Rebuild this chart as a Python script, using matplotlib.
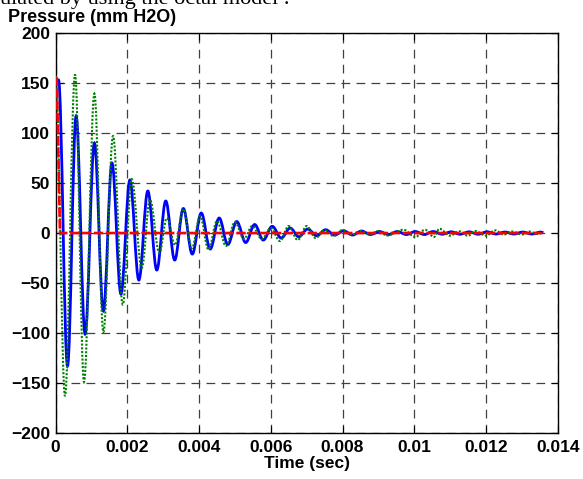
import matplotlib
matplotlib.use("Agg")
import matplotlib.pyplot as plt
from matplotlib.path import Path
from matplotlib.patches import PathPatch

# extremes of the waveforms (time in s, pressure in mm H2O)
blue_t = [0, 0.00008, 0.00033, 0.00057, 0.00082, 0.00108, 0.00133, 0.00157,
          0.00182, 0.00207, 0.00232, 0.00257, 0.00282, 0.00307, 0.00332,
          0.00356, 0.00381, 0.00406, 0.00431, 0.00456, 0.00480, 0.00505,
          0.00530, 0.00555, 0.00579, 0.00604, 0.00629, 0.00654, 0.00678,
          0.00703, 0.00728, 0.00753, 0.00778, 0.00803, 0.00828, 0.00853,
          0.00878, 0.00903, 0.00928, 0.00953, 0.00978, 0.01003, 0.01028,
          0.01053, 0.01078, 0.01103, 0.01128, 0.01153, 0.01178, 0.01203,
          0.01228, 0.01253, 0.01278, 0.01303, 0.01328, 0.01353, 0.0136]
blue_v = [150, 153, -133, 117, -101, 90, -78, 70,
          -61, 53, -47, 42, -37, 32, -27,
          24.5, -21, 20, -16, 15, -11.5, 11.5,
          -9.5, 8.5, -7, 6.7, -5, 5, -3.7,
          4, -2.7, 3.3, -2, 2.3, -2, 2,
          -1.5, 1.5, -1.5, 1.5, -1.5, 1.5, -1.5,
          1.5, -1.2, 1.2, -1.2, 1.2, -1.2, 1.2,
          -1, 1, -1, 1, -1, 1, 0.5]

green_t = [0, 0.00026, 0.00054, 0.00079, 0.00108, 0.00133, 0.00160, 0.00187,
           0.00212, 0.00240, 0.00263, 0.00289, 0.00310, 0.00333, 0.00356,
           0.00380, 0.00403, 0.00426, 0.00450, 0.00475, 0.00500, 0.00525,
           0.00548, 0.00575, 0.00600, 0.00625, 0.00650, 0.00675, 0.00700,
           0.00725, 0.00750, 0.00775, 0.00800, 0.00826, 0.00850, 0.00876,
           0.00900, 0.00924, 0.00970, 0.01003, 0.01030, 0.01055, 0.01070,
           0.01100, 0.01125, 0.01150, 0.01170, 0.01200, 0.01225, 0.01250,
           0.01275, 0.01300, 0.01320, 0.01345, 0.0136]
green_v = [157, -163, 158.5, -149, 139.5, -99, 97, -71.5,
           54, -35, 33.5, -20, 15, -12, 24,
           -15, 17, -16.5, 12, -13, 11, -6,
           7, -6, 5, -8, 7, -7, 7,
           -5, 3, -3, 3, -2, 2, -1.5,
           2, -2.5, 3.3, -4, 3.3, -4, 4.3,
           -2.7, 1.7, -2.7, 2, -2.7, 2.7, -1.5,
           1.5, -1.5, 1.5, -1, 0.5]

red_t = [0, 0.00003, 0.00012, 0.0136]
red_v = [155, 155, 0, 0]

xticks = [0, 0.002, 0.004, 0.006, 0.008, 0.01, 0.012, 0.014]
xticklabels = ["0", "0.002", "0.004", "0.006", "0.008", "0.01", "0.012", "0.014"]
yticks = [-200, -150, -100, -50, 0, 50, 100, 150, 200]

plt.rcParams['font.family'] = ['Liberation Sans', 'DejaVu Sans']
plt.rcParams['font.weight'] = 'bold'


def smooth_path(t, v):
    # cubic pieces with flat tangents at each extreme (half-cosine shape)
    verts = [(t[0], v[0])]
    codes = [Path.MOVETO]
    for i in range(1, len(t)):
        h = t[i] - t[i-1]
        verts += [(t[i-1] + 0.364*h, v[i-1]), (t[i] - 0.364*h, v[i]), (t[i], v[i])]
        codes += [Path.CURVE4]*3
    return Path(verts, codes)


fig = plt.figure(figsize=(5.83, 4.79), dpi=100)
ax = fig.add_axes([0.0955, 0.096, 0.861, 0.835])

ax.add_patch(PathPatch(smooth_path(blue_t, blue_v), fill=False,
                       edgecolor=(0, 0, 1), lw=2.0, zorder=3))
ax.add_patch(PathPatch(smooth_path(green_t, green_v), fill=False,
                       edgecolor=(0, 0.5, 0), lw=1.5, linestyle=(0, (1.0, 0.8)),
                       zorder=4))
ax.plot(red_t, red_v, color=(1, 0, 0), lw=1.9, dashes=(3.5, 1.0), zorder=5)

ax.set_xlim(0, 0.014)
ax.set_ylim(-200, 200)
ax.set_xticks(xticks)
ax.set_xticklabels(xticklabels)
ax.set_yticks(yticks)
ax.tick_params(direction='in', length=5, width=0.8, top=True, right=True,
               labelsize=12.5)
ax.tick_params(axis='x', pad=5)
ax.tick_params(axis='y', pad=4)
for lab in ax.get_xticklabels() + ax.get_yticklabels():
    lab.set_fontweight('bold')
for s in ax.spines.values():
    s.set_linewidth(1.0)

ax.grid(True, color='0.25', lw=0.9, dashes=(7, 5))
ax.set_axisbelow(True)

ax.set_xlabel("Time (sec)", fontsize=12.5, fontweight='bold', labelpad=1)
fig.text(8/583, 1 - 22/479, "Pressure (mm H2O)", fontsize=13, fontweight='bold',
         ha='left', va='baseline')
# cut-off line of the surrounding document text
fig.text(0.0, 1 - 4/479, "ulated by using the octal model .", fontsize=16,
         family='Liberation Serif', fontweight='normal', ha='left', va='baseline')

fig.savefig("out.png", dpi=100)
